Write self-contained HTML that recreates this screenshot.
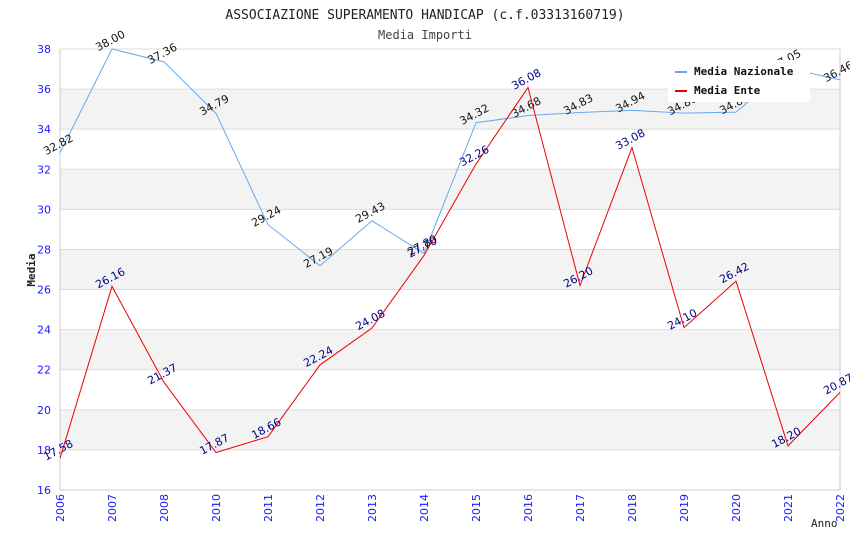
<!DOCTYPE html>
<html><head><meta charset="utf-8"><style>
body{margin:0;background:#fff;}
svg text{font-family:"DejaVu Sans Mono","Liberation Mono",monospace;}
svg text.sans{font-family:"DejaVu Sans","Liberation Sans",sans-serif;}
</style></head><body>
<svg id="c" width="850" height="550" xmlns="http://www.w3.org/2000/svg">
<text x="425" y="19" text-anchor="middle" font-size="13" fill="#222">ASSOCIAZIONE SUPERAMENTO HANDICAP (c.f.03313160719)</text>
<text x="425" y="39" text-anchor="middle" font-size="12" fill="#444">Media Importi</text>
<g id="grid"></g>
<g id="axes"></g>
<g id="series"></g>
<text transform="translate(35,270) rotate(-90)" text-anchor="middle" font-size="11" font-weight="bold" fill="#222">Media</text>
<text x="811" y="527" font-size="11" fill="#222">Anno</text>
<g>
<rect x="668" y="60" width="142" height="42" fill="#fff"/>
<line x1="675" y1="72" x2="687" y2="72" stroke="#66aaee" stroke-width="2"/>
<text x="694" y="75" font-size="11" font-weight="bold" fill="#111">Media Nazionale</text>
<line x1="675" y1="91" x2="687" y2="91" stroke="#ee0000" stroke-width="2"/>
<text x="694" y="94" font-size="11" font-weight="bold" fill="#111">Media Ente</text>
</g>
</svg>
<script>
const categories=["2006","2007","2008","2010","2011","2012","2013","2014","2015","2016","2017","2018","2019","2020","2021","2022"];
const nazionale=[32.82,38.00,37.36,34.79,29.24,27.19,29.43,27.80,34.32,34.68,34.83,34.94,34.80,34.85,37.05,36.46];
const ente=[17.58,26.16,21.37,17.87,18.66,22.24,24.08,27.70,32.26,36.08,26.20,33.08,24.10,26.42,18.20,20.87];
const yTicks=[16,18,20,22,24,26,28,30,32,34,36,38];
const NS="http://www.w3.org/2000/svg";
const L=60,R=840,T=49,B=490,ymin=16,ymax=38;
const x=i=>L+i*(R-L)/(categories.length-1);
const y=v=>B-(v-ymin)/(ymax-ymin)*(B-T);
function mk(tag,attrs,parent){const e=document.createElementNS(NS,tag);for(const k in attrs)e.setAttribute(k,attrs[k]);parent.appendChild(e);return e;}
const grid=document.getElementById('grid'),axes=document.getElementById('axes'),ser=document.getElementById('series');
for(let i=0;i<yTicks.length-1;i++){
 const v=yTicks[i];
 if(i%2===1){const r=mk('rect',{x:L,y:y(v+2),width:R-L,height:y(v)-y(v+2),fill:'#f3f3f3'},grid);
 
 }
}
yTicks.forEach(v=>{
 const l=mk('line',{x1:L,x2:R,y1:y(v),y2:y(v),stroke:'#ddd'},grid);
 
 
 const t=mk('text',{x:L-9,y:y(v)+4,'text-anchor':'end','font-size':11,fill:'#1a1aff','class':'sans'},axes);
 t.textContent=v;
 
 
});
mk('line',{x1:L,x2:L,y1:T,y2:B,stroke:'#ccc'},axes);
mk('line',{x1:R,x2:R,y1:T,y2:B,stroke:'#ccc'},axes);
mk('line',{x1:L,x2:R,y1:B,y2:B,stroke:'#ccc'},axes);
categories.forEach((c,i)=>{
 const t=mk('text',{transform:`translate(${x(i)+4},${B+4}) rotate(-90)`,'text-anchor':'end','font-size':11,fill:'#1a1aff','class':'sans'},axes);
 t.textContent=c;
 
 
});
function series(data,color,lc,name){
 const p=mk('polyline',{points:data.map((v,i)=>x(i)+','+y(v)).join(' '),fill:'none',stroke:color,'stroke-width':1},ser);
 
 
 data.forEach((v,i)=>{
  const t=mk('text',{transform:`translate(${x(i)},${y(v)-5}) rotate(-28)`,'text-anchor':'middle','font-size':11,fill:lc,'class':'sans'},ser);
  t.textContent=v.toFixed(2);
  
  
 });
}
series(nazionale,'#66aaee','#111','nazionale');
series(ente,'#ee0000','#000088','ente');
</script>
</body></html>
